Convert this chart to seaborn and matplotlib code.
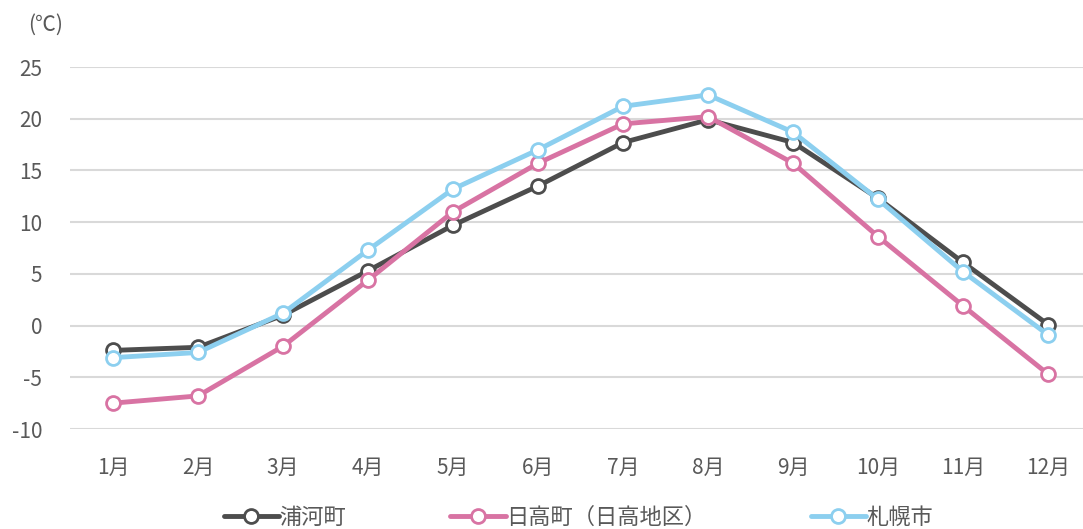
import matplotlib
matplotlib.use("Agg")
import matplotlib.pyplot as plt
import seaborn as sns
import pandas as pd

months = ["1月", "2月", "3月", "4月", "5月", "6月", "7月", "8月", "9月", "10月", "11月", "12月"]
urakawa = [-2.4, -2.1, 1.0, 5.3, 9.7, 13.5, 17.7, 19.9, 17.7, 12.3, 6.1, 0.1]
hidaka = [-7.5, -6.8, -2.0, 4.4, 11.0, 15.7, 19.5, 20.2, 15.7, 8.6, 1.9, -4.7]
sapporo = [-3.1, -2.6, 1.2, 7.3, 13.2, 17.0, 21.2, 22.3, 18.7, 12.2, 5.2, -0.9]
series_names = ["浦河町", "日高町（日高地区）", "札幌市"]
colors = ["#4d4d4d", "#d873a3", "#8ccfef"]

df = pd.DataFrame({"month": months * 3,
                   "temp": urakawa + hidaka + sapporo,
                   "town": [n for n in series_names for _ in months]})

sns.set_style("white")
plt.rcParams["font.family"] = ["Noto Sans CJK JP", "DejaVu Sans"]
plt.rcParams["axes.unicode_minus"] = False
text_color = "#595959"

fig = plt.figure(figsize=(10.83, 5.29), dpi=100)
ax = fig.add_axes([70 / 1083, 100 / 529, 1013 / 1083, 362 / 529])

sns.lineplot(data=df, x="month", y="temp", hue="town", palette=colors,
             marker="o", markersize=10, markerfacecolor="white",
             markeredgewidth=2, linewidth=3.5, sort=False, ax=ax,
             legend=False, clip_on=False)
# markeredgecolor follows line color
for line, c in zip(ax.lines, colors):
    line.set_markeredgecolor(c)
    line.set_zorder(3)

ax.set_ylim(-10, 25)
ax.set_xlim(-0.506, 11.41)
ax.set_yticks(range(-10, 26, 5))
ax.yaxis.grid(True, color="#d9d9d9", linewidth=1.5)
ax.set_axisbelow(True)
for s in ax.spines.values():
    s.set_visible(False)
ax.tick_params(axis="both", length=0, labelsize=15, labelcolor=text_color)
ax.tick_params(axis="x", pad=20)
ax.tick_params(axis="y", pad=20)
ax.set_xlabel("")
ax.set_ylabel("")
fig.text(46 / 1083, 1 - 25 / 529, "(℃)", ha="center", va="center",
         fontsize=15, color=text_color)

handles = [plt.Line2D([], [], color=c, marker="o", markersize=10,
                      markerfacecolor="white", markeredgecolor=c,
                      markeredgewidth=2, linewidth=3.5) for c in colors]
fig.legend(handles, series_names, loc="center", ncol=3,
           bbox_to_anchor=(0.534, 12 / 529), frameon=False, fontsize=16,
           labelcolor=text_color, handlelength=2.5, handletextpad=0.0,
           columnspacing=4.7)

fig.savefig("out.png", dpi=100)
